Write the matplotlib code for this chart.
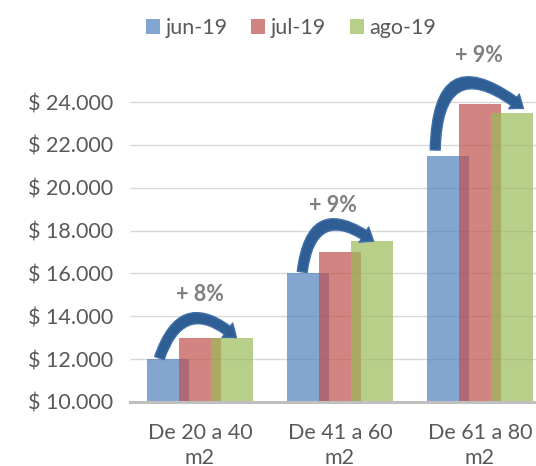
import matplotlib
matplotlib.use("Agg")
import matplotlib.pyplot as plt
from matplotlib.patches import FancyArrowPatch, ArrowStyle
import numpy as np

plt.rcParams.update({"font.family": "Lato", "font.size": 15.5})

categories = ["De 20 a 40\nm2", "De 41 a 60\nm2", "De 61 a 80\nm2"]
series = ["jun-19", "jul-19", "ago-19"]
jun = [12000, 16000, 21500]
jul = [13000, 17000, 23900]
ago = [13000, 17500, 23500]
pct_labels = ["+ 8%", "+ 9%", "+ 9%"]

colors = ["#4F81BD", "#C0504D", "#9BBB59"]
txt = "#595959"

fig = plt.figure(figsize=(5.36, 4.66), dpi=100)
ax = fig.add_axes([130/536, 64/466, 420/536, 321.4/466])

x = np.arange(len(categories))
w, off = 0.3, 0.228
for i, (vals, c) in enumerate(zip([jun, jul, ago], colors)):
    ax.bar(x + (i - 1) * off, np.array(vals) - 10000, bottom=10000, width=w,
           color=c, alpha=0.7, label=series[i], zorder=2, linewidth=0)

ax.set_xlim(-0.5, 2.5)
ax.set_ylim(10000, 25000)
yt = list(range(10000, 25000, 2000))
ax.set_yticks(yt)
ax.set_yticklabels([("$ {:,}".format(v)).replace(",", ".") for v in yt], color=txt)
ax.set_xticks(x)
ax.set_xticklabels(categories, color=txt, linespacing=1.35)
ax.tick_params(axis="both", length=0)
ax.tick_params(axis="y", pad=12)
ax.tick_params(axis="x", pad=15)
ax.grid(axis="y", color="#D9D9D9", lw=1, zorder=0)
for s in ["top", "right", "left"]:
    ax.spines[s].set_visible(False)
ax.spines["bottom"].set_color("#BFBFBF")
ax.spines["bottom"].set_linewidth(2.2)
ax.spines["bottom"].set_zorder(3)

# curved growth arrows: from top of jun bar to top of ago bar
arrow_start = [(-0.29, 12050), (0.73, 16070), (1.68, 21760)]
arrow_end = [(0.26, 13000), (1.24, 17500), (2.31, 23700)]
rads = [-0.75, -0.85, -1.0]
style = ArrowStyle.Simple(head_length=0.65, head_width=1.0, tail_width=0.55)
for p0, p1, r in zip(arrow_start, arrow_end, rads):
    ax.add_patch(FancyArrowPatch(p0, p1, connectionstyle=f"arc3,rad={r}",
                 arrowstyle=style, mutation_scale=13, fc="#2F5E95", ec="#4070A8",
                 lw=1, zorder=4, clip_on=False, shrinkA=0, shrinkB=0))

pct_pos = [(0.0, 15000), (0.95, 19190), (1.99, 26190)]
for (px, py), t in zip(pct_pos, pct_labels):
    ax.text(px, py, t, ha="center", va="center", fontsize=15.5, fontweight="bold",
            color="#7F7F7F", clip_on=False)

fig.legend(loc="center", bbox_to_anchor=(291/536, 1 - 28/466), ncol=3, frameon=False,
           handlelength=0.65, handleheight=0.65, handletextpad=0.25, columnspacing=1.1,
           labelcolor=txt, fontsize=15.5)

fig.savefig("out.png", dpi=100)
